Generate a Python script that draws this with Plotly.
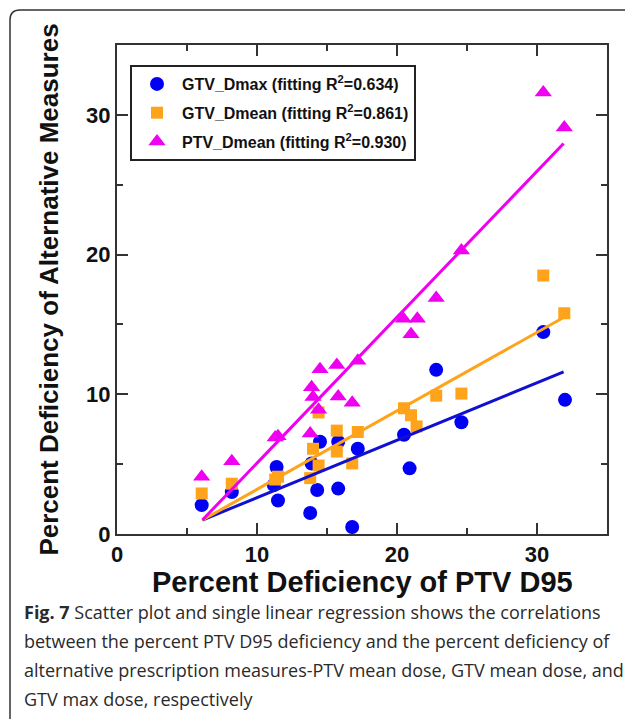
import plotly.graph_objects as go

# ---- data ----
gtv_dmax_x = [6.05, 8.2, 11.4, 11.2, 11.5, 13.8, 13.9, 14.3, 14.5, 15.8, 15.8, 16.8, 17.2, 20.5, 20.9, 22.8, 24.6, 30.45, 32.0]
gtv_dmax_y = [2.07, 3.0, 4.8, 3.5, 2.4, 1.5, 5.05, 3.15, 6.6, 6.6, 3.25, 0.5, 6.1, 7.1, 4.7, 11.75, 8.0, 14.45, 9.6]

gtv_dmean_x = [6.05, 8.2, 11.3, 11.5, 13.8, 14.0, 14.4, 14.4, 15.7, 15.7, 16.8, 17.2, 20.5, 21.0, 21.4, 22.8, 24.6, 30.45, 31.95]
gtv_dmean_y = [2.9, 3.6, 3.9, 4.1, 4.0, 6.1, 4.9, 8.7, 7.4, 5.9, 5.05, 7.3, 9.0, 8.5, 7.7, 9.9, 10.05, 18.5, 15.8]

ptv_dmean_x = [6.05, 8.2, 11.3, 11.5, 13.8, 13.9, 14.0, 14.4, 14.5, 15.7, 15.8, 16.8, 17.2, 20.45, 21.0, 21.45, 22.8, 24.6, 30.45, 31.95]
ptv_dmean_y = [4.1, 5.2, 6.9, 7.0, 7.2, 10.5, 9.8, 8.9, 11.8, 12.1, 9.85, 9.4, 12.4, 15.4, 14.3, 15.4, 16.9, 20.3, 31.6, 29.1]

# fitted regression lines (end points)
fit_x = [6.1, 31.9]
fit_gtv_dmax_y = [1.0, 11.6]
fit_gtv_dmean_y = [1.0, 15.5]
fit_ptv_dmean_y = [1.0, 27.95]

names = ["GTV_Dmax (fitting R<sup>2</sup>=0.634)",
         "GTV_Dmean (fitting R<sup>2</sup>=0.861)",
         "PTV_Dmean (fitting R<sup>2</sup>=0.930)"]

x_ticks = [0, 10, 20, 30]
y_ticks = [0, 10, 20, 30]

x_title = "Percent Deficiency of PTV D95"
y_title = "Percent Deficiency of Alternative Measures"

caption_lines = [
    "<b>Fig. 7</b> Scatter plot and single linear regression shows the correlations",
    "between the percent PTV D95 deficiency and the percent deficiency of",
    "alternative prescription measures-PTV mean dose, GTV mean dose, and",
    "GTV max dose, respectively",
]

BLUE = "#0000f5"
ORANGE = "#ffa31a"
MAGENTA = "#f000f0"

fig = go.Figure()
fig.add_trace(go.Scatter(x=gtv_dmax_x, y=gtv_dmax_y, mode="markers", name=f"<b>{names[0]}</b>",
                         legendgroup="a",
                         marker=dict(symbol="circle", size=14, color=BLUE, line=dict(width=0))))
fig.add_trace(go.Scatter(x=gtv_dmean_x, y=gtv_dmean_y, mode="markers", name=f"<b>{names[1]}</b>",
                         legendgroup="b",
                         marker=dict(symbol="square", size=12, color=ORANGE, line=dict(width=0))))
fig.add_trace(go.Scatter(x=ptv_dmean_x, y=ptv_dmean_y, mode="markers", name=f"<b>{names[2]}</b>",
                         legendgroup="c",
                         marker=dict(symbol="triangle-up", size=15, color=MAGENTA, line=dict(width=0))))
for fy, col in [(fit_gtv_dmax_y, "#1010d0"), (fit_gtv_dmean_y, ORANGE), (fit_ptv_dmean_y, MAGENTA)]:
    fig.add_trace(go.Scatter(x=fit_x, y=fy, mode="lines", showlegend=False,
                             line=dict(color=col, width=3)))

L, R, T, B = 117, 18, 45, 185
W, H = 625, 719
pw, ph = W - L - R, H - T - B

def px(xp):
    return (xp - L) / pw

def py(yp):
    return (H - B - yp) / ph

axis_common = dict(
    showline=True, linecolor="#333333", linewidth=2, mirror="ticks",
    ticks="inside", ticklen=11, tickwidth=1.5, tickcolor="#333333",
    showgrid=False, zeroline=False,
    tickfont=dict(family="Liberation Sans, Arial", size=22, color="#111111"),
    minor=dict(dtick=5, ticks="inside", ticklen=6, tickwidth=1.5, tickcolor="#333333", showgrid=False),
)

fig.update_layout(
    width=W, height=H,
    margin=dict(l=L, r=R, t=T, b=B),
    paper_bgcolor="white", plot_bgcolor="white",
    font=dict(family="Liberation Sans, Arial", color="#111111"),
    xaxis=dict(range=[0, 35], tickvals=x_ticks, ticktext=[f"<b>{v}</b>" for v in x_ticks],
               **axis_common),
    yaxis=dict(range=[0, 35], tickvals=y_ticks, ticktext=[f"<b>{v}</b>" for v in y_ticks],
               title=dict(text=f"<b>{y_title}</b>", standoff=20,
                          font=dict(family="Liberation Sans, Arial", size=26, color="#111111")),
               **axis_common),
    legend=dict(x=px(130), y=py(65), xanchor="left", yanchor="top",
                bgcolor="white", bordercolor="#222222", borderwidth=2,
                font=dict(family="Liberation Sans, Arial", size=16, color="#111111"),
                traceorder="grouped", tracegroupgap=5, itemwidth=40),
    showlegend=True,
)

# x-axis title
fig.add_annotation(text=f"<b>{x_title}</b>", xref="paper", yref="paper",
                   x=px(362), y=py(582), xanchor="center", yanchor="middle", showarrow=False,
                   font=dict(family="Liberation Sans, Arial", size=29, color="#111111"))

# caption
for i, line in enumerate(caption_lines):
    fig.add_annotation(text=line, xref="paper", yref="paper",
                       x=px(22), y=py(612 + 29 * i), xanchor="left", yanchor="middle",
                       showarrow=False,
                       font=dict(family="Open Sans", size=18, color="#2a2a2a"))

# outer rounded frame (top and left edges visible)
r = 10
x0, y0 = 10, 10
fig.add_shape(type="path", xref="paper", yref="paper",
              path=(f"M {px(x0)},{py(H + 5)} L {px(x0)},{py(y0 + r)} "
                    f"Q {px(x0)},{py(y0)} {px(x0 + r)},{py(y0)} L {px(W + 10)},{py(y0)}"),
              line=dict(color="#333333", width=1.5))

fig.write_html("out.html")
